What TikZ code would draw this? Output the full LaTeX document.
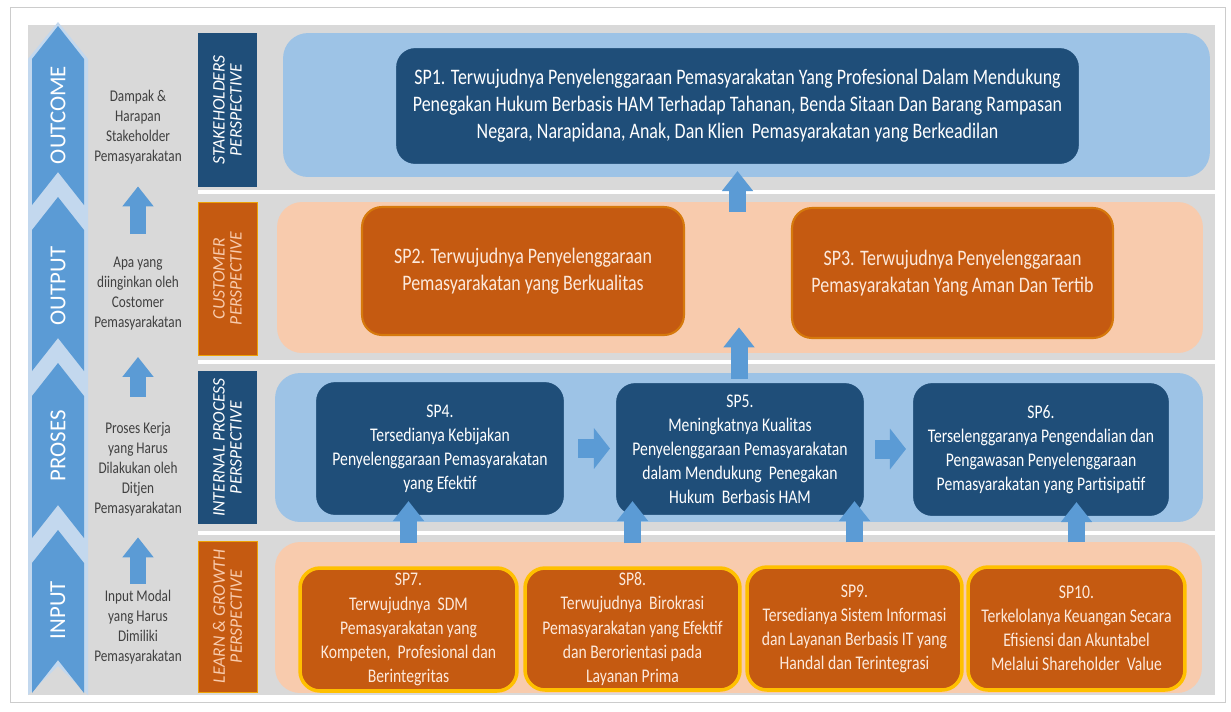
\documentclass[tikz,border=0pt]{standalone}
\usepackage{fontspec}
\setmainfont{Carlito}[FakeStretch=0.81]
\newfontfamily\plainfont{Carlito}
\usetikzlibrary{arrows.meta}

\definecolor{bggray}{HTML}{D9D9D9}
\definecolor{navy}{HTML}{1F4E79}
\definecolor{rust}{HTML}{C55A11}
\definecolor{skyband}{HTML}{9DC3E6}
\definecolor{peach}{HTML}{F8CBAD}
\definecolor{arrowblue}{HTML}{5B9BD5}
\definecolor{paleblue}{HTML}{C3D8EE}
\definecolor{gold}{HTML}{FFC000}
\definecolor{cream}{HTML}{FCE9DC}
\definecolor{inkgray}{HTML}{404040}

\begin{document}
\begin{tikzpicture}[x=0.02cm, y=-0.02cm,
    bluepanel/.style={fill=skyband, rounded corners=0.5cm},
    peachpanel/.style={fill=peach, rounded corners=0.5cm},
    navybox/.style={fill=navy, draw=skyband, line width=1.2pt, rounded corners=0.4cm,
      text=white, align=center, inner sep=0pt},
    rustbox/.style={fill=rust, draw=rust!70!gold, line width=1.2pt, rounded corners=0.4cm,
      text=cream, align=center, inner sep=0pt},
    goldbox/.style={rustbox, draw=gold, line width=2pt},
    bigtext/.style={font=\fontsize{12.6}{15.4}\selectfont},
    smalltext/.style={font=\fontsize{11}{13.7}\selectfont},
    sidetext/.style={align=center, inner sep=0pt, text=inkgray,
      font=\fontsize{9.3}{11.4}\selectfont},
    perspective/.style={rotate=90, align=center, inner sep=0pt,
      minimum height=1.18cm, font=\plainfont\itshape\fontsize{10}{9.7}\selectfont},
    phase/.style={rotate=90, text=white, font=\plainfont\fontsize{13}{15}\selectfont},
    uparrow/.style={color=arrowblue, line width=0.34cm, -{Triangle[width=0.6cm, length=0.4cm]}},
    sidearrow/.style={color=arrowblue, line width=0.38cm, -{Triangle[width=0.8cm, length=0.32cm]}},
    sepline/.style={white, line width=0.08cm}]

  \useasboundingbox (0,0) rectangle (1231,711);
  \draw [black!20] (10,7) rectangle (1225,702);
  \fill [bggray] (28,25) rectangle (1215,695);

  % phases on the left
  \fill [paleblue] (28,59) -- (58,22) -- (88,59) -- (88,695) -- (58,666) -- (28,695) -- cycle;
  \foreach \t/\b/\lbl/\c in {26/172/OUTCOME/115, 197/338/OUTPUT/286,
      363/505/PROSES/446, 530/660/INPUT/610} {
    \fill [arrowblue] (32,\t+33) -- (58,\t) -- (84,\t+33) -- (84,\b+33) -- (58,\b) -- (32,\b+33) -- cycle;
    \node (ph\lbl) [phase] at (58,\c) {\lbl};
  }

  \node (dampak) [sidetext] at (138,127) {Dampak \&\\Harapan\\Stakeholder\\Pemasyarakatan};
  \node (apa) [sidetext] at (138,294) {Apa yang\\diinginkan oleh\\Costomer\\Pemasyarakatan};
  \node (proseskerja) [sidetext] at (138,469) {Proses Kerja\\yang Harus\\Dilakukan oleh\\Ditjen\\Pemasyarakatan};
  \node (inputmodal) [sidetext] at (138,627) {Input Modal\\yang Harus\\Dimiliki\\Pemasyarakatan};

  % perspectives
  \node (pstake) [perspective, fill=navy, text=white, minimum width=3.08cm] at (227.5,110) {STAKEHOLDERS\\PERSPECTIVE};
  \node (pcust) [perspective, fill=rust, draw=gold!70!rust, text=peach, minimum width=3.06cm] at (227.5,278.5) {CUSTOMER\\PERSPECTIVE};
  \node (pint) [perspective, fill=navy, text=white, minimum width=3.06cm] at (227.5,447.5) {INTERNAL PROCESS\\PERSPECTIVE};
  \node (plearn) [perspective, fill=rust, draw=gold!70!rust, text=peach, minimum width=3.02cm] at (227.5,616.5) {LEARN \& GROWTH\\PERSPECTIVE};

  \draw [sepline] (198,192) -- (1215,192);
  \draw [sepline] (198,362) -- (1215,362);
  \draw [sepline] (198,533) -- (1215,533);

  \node (stakepanel) [bluepanel, minimum width=18.54cm, minimum height=2.88cm] at (746.5,105) {};
  \node (custpanel) [peachpanel, minimum width=18.52cm, minimum height=3.02cm] at (740,277.5) {};
  \node (intpanel) [bluepanel, minimum width=18.56cm, minimum height=2.98cm] at (739,447.5) {};
  \node (learnpanel) [peachpanel, minimum width=18.54cm, minimum height=3.02cm] at (738.5,617.5) {};

  % strategic goals
  \node (sp1) [navybox, bigtext, minimum width=13.7cm, minimum height=2.36cm] at (737.5,106)
    {SP1. Terwujudnya Penyelenggaraan Pemasyarakatan Yang Profesional Dalam Mendukung\\
     Penegakan Hukum Berbasis HAM Terhadap Tahanan, Benda Sitaan Dan Barang Rampasan\\
     Negara, Narapidana, Anak, Dan Klien\ \ Pemasyarakatan yang Berkeadilan};
  \node (sp2) [rustbox, bigtext, minimum width=6.44cm, minimum height=2.56cm] at (523,271)
    {SP2. Terwujudnya Penyelenggaraan\\Pemasyarakatan yang Berkualitas};
  \node (sp3) [rustbox, bigtext, minimum width=6.42cm, minimum height=2.6cm] at (952.5,273)
    {SP3. Terwujudnya Penyelenggaraan\\Pemasyarakatan Yang Aman Dan Tertib};
  \node (sp4) [navybox, smalltext, minimum width=5cm, minimum height=2.7cm] at (440,448.5)
    {SP4.\\Tersedianya Kebijakan\\Penyelenggaraan Pemasyarakatan\\yang Efektif};
  \node (sp5) [navybox, smalltext, minimum width=5cm, minimum height=2.68cm] at (740,449)
    {SP5.\\Meningkatnya Kualitas\\Penyelenggaraan Pemasyarakatan\\dalam Mendukung\ \ Penegakan\\Hukum\ \ Berbasis HAM};
  \node (sp6) [navybox, smalltext, minimum width=5.16cm, minimum height=2.7cm] at (1041,449.5)
    {SP6.\\Terselenggaranya Pengendalian dan\\Pengawasan Penyelenggaraan\\Pemasyarakatan yang Partisipatif};
  \node (sp7) [goldbox, smalltext, minimum width=4.34cm, minimum height=2.46cm] at (408.5,629.5)
    {SP7.\\Terwujudnya\ \ SDM\\Pemasyarakatan yang\\Kompeten,\ \ Profesional dan\\Berintegritas};
  \node (sp8) [goldbox, smalltext, minimum width=4.3cm, minimum height=2.44cm] at (632.5,629)
    {SP8.\\Terwujudnya\ \ Birokrasi\\Pemasyarakatan yang Efektif\\dan Berorientasi pada\\Layanan Prima};
  \node (sp9) [goldbox, smalltext, minimum width=4.3cm, minimum height=2.46cm] at (854.5,628.5)
    {SP9.\\Tersedianya Sistem Informasi\\dan Layanan Berbasis IT yang\\Handal dan Terintegrasi};
  \node (sp10) [goldbox, smalltext, minimum width=4.34cm, minimum height=2.46cm] at (1076.5,628.5)
    {SP10.\\Terkelolanya Keuangan Secara\\Efisiensi dan Akuntabel\\Melalui Shareholder\ \ Value};

  \path [uparrow]
    (apa) edge [shorten <=0.46cm, shorten >=0.44cm] (dampak)
    (proseskerja) edge [shorten <=0.5cm, shorten >=0.52cm] (apa)
    (inputmodal) edge [shorten <=0.12cm, shorten >=0.42cm] (proseskerja)
    (sp1.south |- custpanel.north) edge [shorten <=-0.2cm, shorten >=0.1cm] (sp1.south)
    (intpanel.north) edge [shorten <=-0.12cm, shorten >=-0.52cm] (intpanel.north |- custpanel.south)
    (sp7.north) edge [shorten <=0.46cm, shorten >=-0.32cm] (sp7.north |- sp4.south)
    (sp8.north) edge [shorten <=0.46cm, shorten >=-0.32cm] (sp8.north |- sp5.south)
    (sp9.north) edge [shorten <=0.46cm, shorten >=-0.32cm] (sp9.north |- sp5.south)
    (sp10.north) edge [shorten <=0.46cm, shorten >=-0.32cm] (sp10.north |- sp6.south);

  \path [sidearrow]
    (sp4.east) edge [shorten <=0.24cm, shorten >=0.08cm] (sp4.east -| sp5.west)
    (sp5.east) edge [shorten <=0.18cm, shorten >=0.1cm] (sp5.east -| sp6.west);
\end{tikzpicture}
\end{document}
